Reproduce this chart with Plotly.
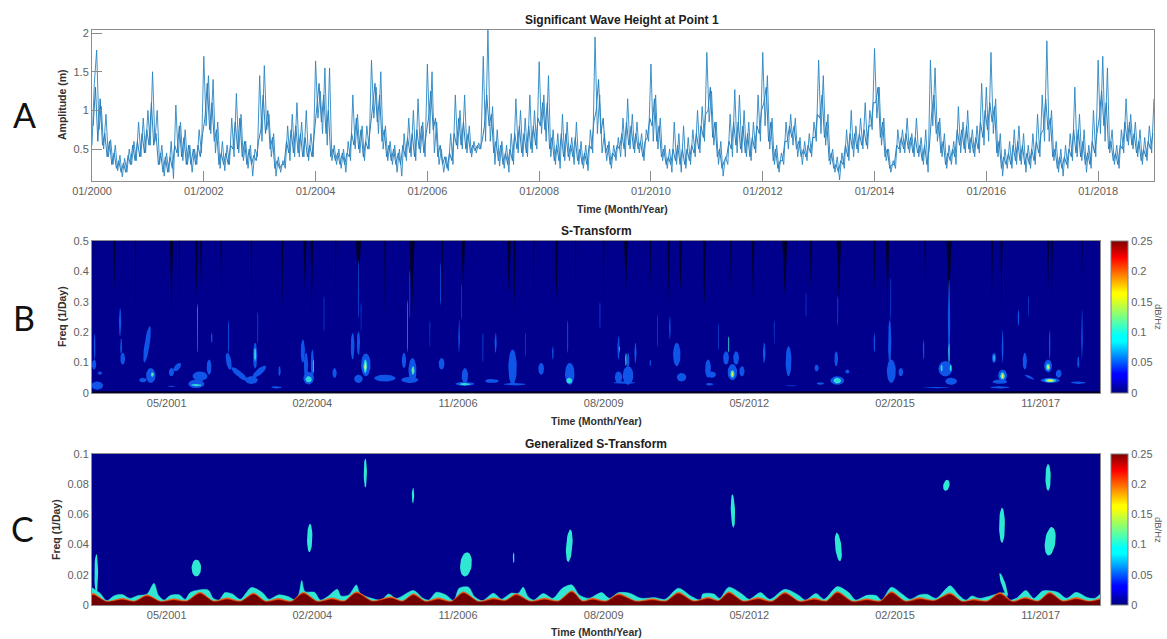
import numpy as np
import plotly.graph_objects as go

W, H = 1167, 639
FONT = "Liberation Sans"

# ---------- Panel A: significant wave height, half-month readings ----------
wave_by_year = [
    [.55,1.35,1.78,.75,1.05,.5,.95,.4,.62,.3,.55,.22,.42,.14,.38,.2,.5,.3,.6,.35,.85,.4,.9,.45],
    [1.0,.55,1.5,.6,1.0,.3,.55,.15,.45,.2,.6,.12,1.07,.4,.85,.35,.75,.3,.55,.2,.5,.3,.75,.45],
    [1.7,.8,1.45,.7,1.4,.45,.85,.25,.6,.22,.55,.3,.9,.4,1.22,.45,.95,.35,.6,.25,.55,.15,.5,.4],
    [1.45,.6,1.58,.75,.95,.4,.7,.15,.4,.2,.35,.25,.8,.35,.95,.4,1.1,.4,.85,.4,1.0,.35,.7,.4],
    [1.64,.9,1.25,.7,1.55,.55,1.55,.35,.55,.3,.5,.25,.5,.2,.6,.35,1.2,.5,.95,.45,.8,.35,.8,.5],
    [1.65,.9,1.3,.7,1.5,.5,.8,.35,.6,.3,.55,.2,.5,.15,.7,.35,.9,.4,1.0,.35,1.15,.45,.85,.4],
    [1.6,.7,1.5,.45,.85,.3,.5,.2,.4,.22,.7,.3,1.2,.5,1.0,.5,1.2,.45,.8,.4,.6,.45,.58,.5],
    [1.7,.6,2.05,.6,1.05,.3,.75,.28,.6,.25,.55,.2,.7,.3,1.15,.45,1.0,.4,.9,.4,1.2,.45,1.0,.5],
    [1.63,.7,1.2,.6,1.45,.4,.75,.3,.7,.25,.95,.35,.85,.35,.65,.3,.85,.3,.6,.25,.55,.22,.75,.45],
    [1.95,.7,1.2,.45,.7,.35,.6,.25,.55,.35,.65,.4,.9,.4,1.15,.5,.95,.45,.85,.45,.7,.35,.75,.6],
    [1.6,.6,1.2,.5,.9,.35,.55,.25,.5,.2,.85,.3,.7,.2,.8,.25,.65,.3,.75,.4,1.0,.45,1.05,.6],
    [1.75,.85,1.25,.55,.85,.3,.6,.15,.4,.3,.95,.4,1.27,.45,1.2,.45,1.0,.4,.85,.35,.85,.45,1.2,.6],
    [1.75,.8,1.45,.5,.9,.3,.55,.2,.45,.3,.85,.5,.95,.55,.9,.4,.65,.3,.6,.35,.7,.4,.85,.6],
    [1.65,.7,1.45,.55,.95,.3,.5,.2,.4,.1,.45,.25,.75,.35,1.0,.4,.8,.45,.9,.5,1.1,.5,1.0,.75],
    [1.8,.9,1.3,.55,.9,.35,.5,.2,.35,.25,.75,.45,.75,.45,.9,.45,.7,.4,.9,.4,.65,.3,.75,.2],
    [1.65,.8,1.55,.6,.9,.4,.7,.25,.55,.3,.6,.3,1.05,.45,.85,.45,1.0,.45,.75,.4,.8,.45,1.35,.55],
    [1.3,.6,1.75,.7,1.15,.4,.7,.15,.5,.25,.6,.25,.75,.3,.8,.3,.7,.2,.55,.25,.7,.3,.95,.4],
    [1.2,.6,1.9,.6,1.0,.35,.6,.2,.5,.15,.55,.25,.7,.35,1.3,.4,.95,.35,.75,.2,.55,.25,1.0,.4],
    [1.65,.7,1.7,.6,1.55,.45,.75,.3,.55,.25,.75,.45,1.15,.55,.95,.5,.85,.4,.75,.3,.65,.35,.8,.45,1.15],
]
# readings of the dense core of the record, a quarter-month later
core_by_year = [
    [.8,1.3,.6,1.15,.55,.7,.4,.6,.3,.45,.25,.35,.2,.32,.2,.42,.3,.55,.35,.6,.4,.7,.45,.75],
    [.55,1.1,.55,.7,.3,.45,.2,.4,.2,.4,.25,.55,.45,.8,.4,.65,.3,.55,.3,.5,.3,.55,.4,.7],
    [.9,1.35,.75,1.1,.6,.75,.3,.45,.3,.45,.3,.55,.5,.85,.5,.9,.4,.6,.3,.5,.3,.42,.35,.6],
    [.75,1.2,.7,1.0,.5,.65,.25,.35,.25,.3,.3,.6,.45,.75,.45,.8,.45,.7,.4,.65,.4,.55,.4,.7],
    [1.0,1.35,.85,1.2,.7,1.0,.4,.5,.35,.45,.3,.45,.3,.45,.4,.7,.55,.9,.5,.75,.4,.6,.5,.75],
    [1.05,1.35,.85,1.2,.6,.75,.4,.55,.35,.5,.3,.45,.3,.55,.4,.65,.45,.7,.4,.75,.5,.8,.45,.7],
    [.9,1.25,.75,.9,.4,.55,.3,.4,.25,.45,.35,.7,.55,.9,.55,.85,.5,.7,.45,.55,.48,.55,.5,.6],
    [.8,1.2,.8,.95,.45,.6,.35,.55,.3,.45,.3,.5,.35,.7,.5,.8,.45,.7,.45,.8,.5,.8,.55,.9],
    [.8,1.1,.75,1.1,.5,.65,.35,.55,.35,.7,.4,.7,.4,.55,.4,.65,.35,.5,.3,.45,.3,.55,.5,.85],
    [1.0,1.4,.7,.9,.45,.55,.3,.45,.4,.55,.5,.7,.5,.85,.55,.8,.5,.7,.5,.6,.4,.6,.65,.9],
    [.8,1.15,.6,.8,.4,.5,.3,.4,.3,.5,.35,.55,.3,.5,.3,.5,.35,.55,.45,.7,.5,.8,.65,.95],
    [1.0,1.3,.65,.85,.4,.5,.25,.35,.4,.6,.5,.85,.55,.85,.5,.8,.45,.7,.4,.65,.5,.8,.7,1.0],
    [1.1,1.3,.6,.85,.35,.5,.25,.35,.35,.6,.6,.8,.65,.8,.5,.6,.4,.5,.4,.55,.45,.65,.65,.95],
    [.9,1.2,.65,.85,.35,.45,.25,.3,.2,.35,.3,.55,.4,.7,.5,.7,.5,.7,.55,.75,.55,.8,.8,1.1],
    [1.1,1.3,.65,.85,.4,.5,.25,.3,.3,.55,.5,.65,.5,.7,.5,.65,.45,.65,.45,.55,.35,.55,.3,.5],
    [.95,1.2,.7,.85,.45,.6,.3,.45,.35,.5,.4,.75,.55,.75,.5,.8,.5,.65,.45,.65,.5,.85,.65,1.0],
    [.75,1.1,.85,1.05,.45,.6,.25,.4,.3,.45,.3,.55,.35,.6,.35,.55,.3,.45,.3,.5,.35,.6,.45,.7],
    [.75,1.15,.75,.9,.4,.5,.25,.4,.25,.4,.3,.5,.4,.75,.45,.75,.4,.6,.3,.45,.3,.6,.45,.7],
    [.9,1.25,.8,1.1,.5,.6,.35,.45,.3,.55,.5,.85,.6,.85,.55,.7,.45,.6,.35,.5,.4,.6,.5,.7],
]
a_tick_years = [2000, 2002, 2004, 2006, 2008, 2010, 2012, 2014, 2016, 2018]
a_tick_text = ["01/2000","01/2002","01/2004","01/2006","01/2008","01/2010","01/2012","01/2014","01/2016","01/2018"]
a_y_ticks = [0.5, 1, 1.5, 2]
a_y_text = ["0.5", "1", "1.5", "2"]

# ---------- Panels B, C: shared axes ----------
bc_tick_years = [2001.33, 2004.08, 2006.83, 2009.58, 2012.33, 2015.08, 2017.83]
bc_tick_text = ["05/2001","02/2004","11/2006","08/2009","05/2012","02/2015","11/2017"]
b_y_ticks = [0, .1, .2, .3, .4, .5]
b_y_text = ["0", "0.1", "0.2", "0.3", "0.4", "0.5"]
c_y_ticks = [0, .02, .04, .06, .08, .1]
c_y_text = ["0", "0.02", "0.04", "0.06", "0.08", "0.1"]
cbar_ticks = [0, .05, .1, .15, .2, .25]
cbar_text = ["0", "0.05", "0.1", "0.15", "0.2", "0.25"]
background_level = 0.003

b_blue = [
 (2000.02,.011,.038,.11,0),(1999.96,.077,.11,.04,0),(1999.97,.11,.198,.015,0),(2000.07,.06,.071,.04,0),
 (2000.45,.187,.28,.022,0),(2000.5,.093,.132,.045,0),(2000.47,.125,.18,.018,0),(2000.96,.1,.22,.05,.1),
 (2001.03,.033,.082,.09,0),(2000.88,.035,.05,.07,0),(2001.42,.055,.082,.05,0),(2001.53,.071,.099,.06,.08),
 (2001.42,.02,.024,.07,0),(2001.89,.016,.044,.15,0),(2001.96,.04,.071,.14,0),(2002.13,.06,.11,.045,0),
 (2002.18,.165,.198,.015,0),(2002.5,.077,.132,.05,-.05),(2002.7,.04,.085,.08,-.25),(2002.93,.03,.055,.12,0),
 (2003.08,.05,.09,.08,.2),(2003.0,.08,.165,.04,0),(2003.46,.055,.088,.022,0),(2003.4,.015,.022,.1,0),
 (2003.9,.1,.176,.04,0),(2003.96,.05,.132,.04,0),(2004.08,.05,.143,.03,0),(2004.01,.028,.07,.1,0),
 (2004.5,.05,.082,.04,0),(2004.84,.11,.198,.035,0),(2004.95,.125,.203,.03,0),(2005.09,.055,.13,.09,0),
 (2004.95,.033,.06,.08,0),(2005.45,.038,.06,.2,0),(2005.81,.082,.132,.04,0),(2005.97,.033,.115,.075,0),
 (2005.92,.033,.053,.16,0),(2006.52,.077,.115,.055,0),(2006.96,.03,.082,.06,0),(2006.96,.024,.036,.18,0),
 (2006.85,.132,.242,.015,0),(2007.47,.033,.046,.13,0),(2007.54,.132,.198,.02,0),(2007.86,.027,.143,.08,0),
 (2007.9,.025,.033,.2,0),(2008.4,.06,.099,.055,0),(2008.62,.11,.154,.015,0),(2008.94,.027,.099,.09,0),
 (2004.95,.242,.44,.01,0),(2005.92,.242,.407,.01,0),(2006.5,.286,.43,.01,0),(2008.9,.13,.24,.012,0),
 (2009.86,.11,.187,.02,0),(2010.04,.082,.132,.025,0),(2009.86,.033,.071,.07,0),(2010.04,.027,.088,.1,0),
 (2009.97,.03,.038,.2,0),(2010.18,.099,.165,.02,0),(2010.46,.088,.11,.014,0),(2010.96,.088,.165,.07,0),
 (2011.05,.038,.066,.09,0),(2010.83,.176,.253,.014,0),(2011.55,.05,.11,.055,0),(2011.62,.05,.071,.08,0),
 (2011.58,.025,.033,.07,0),(2011.89,.093,.137,.055,0),(2012.08,.093,.137,.055,0),(2012.01,.042,.095,.09,0),
 (2012.19,.055,.088,.05,0),(2012.61,.099,.165,.025,0),(2013.07,.055,.154,.055,0),(2013.1,.022,.025,.13,0),
 (2009.51,.21,.3,.01,0),(2013.6,.071,.093,.04,0),(2013.97,.088,.137,.035,0),(2013.99,.027,.055,.13,0),
 (2013.67,.027,.035,.07,0),(2014.18,.064,.077,.04,0),(2014.69,.132,.198,.014,0),(2014.98,.088,.242,.03,0),
 (2015.01,.033,.11,.085,0),(2015.19,.055,.082,.045,0),(2015.62,.11,.176,.014,0),(2016.1,.099,.374,.022,0),
 (2016.03,.055,.105,.13,0),(2016.14,.027,.05,.11,0),(2015.86,.016,.02,.25,0),(2016.95,.099,.132,.04,0),
 (2017.11,.099,.209,.016,0),(2017.11,.038,.077,.085,0),(2017.06,.03,.044,.14,0),(2017.06,.015,.022,.18,0),
 (2017.41,.22,.275,.014,0),(2017.53,.077,.132,.04,0),(2017.62,.044,.06,.05,-.15),(2017.97,.068,.11,.075,0),
 (2018.0,.11,.209,.014,0),(2018.01,.033,.05,.18,0),(2018.17,.05,.077,.055,0),(2018.61,.11,.275,.014,0),
 (2018.54,.03,.038,.14,0),(2018.54,.082,.12,.02,0),
 (2002.5,.13,.24,.012,0),(2003.05,.16,.27,.01,0),(2004.3,.2,.32,.009,0),(2005.0,.2,.3,.008,0),(2006.3,.15,.24,.008,0),
 (2006.9,.24,.36,.009,0),(2007.3,.1,.2,.01,0),(2008.1,.12,.2,.009,0),(2010.6,.15,.26,.009,0),(2011.75,.14,.23,.009,0),
 (2012.8,.16,.24,.008,0),(2013.4,.25,.33,.009,0),(2014.0,.22,.32,.01,0),(2015.0,.24,.38,.009,0),(2017.6,.25,.32,.008,0),
]
b_cyan = [
 (2001.06,.053,.068,.03,0),(2001.89,.022,.03,.1,0),(2001.91,.132,.297,.008,0),(2003.0,.104,.148,.02,0),
 (2004.1,.066,.11,.012,0),(2004.01,.035,.055,.06,0),(2005.08,.066,.11,.035,0),(2005.98,.06,.088,.03,0),
 (2005.88,.132,.308,.008,0),(2006.96,.025,.033,.1,0),(2008.93,.031,.05,.055,0),(2010.0,.088,.132,.015,0),
 (2009.88,.132,.154,.008,0),(2011.94,.132,.187,.012,0),(2012.01,.05,.075,.04,0),(2013.99,.031,.05,.07,0),
 (2016.1,.099,.165,.014,0),(2015.96,.071,.093,.02,0),(2016.13,.071,.093,.02,0),(2017.11,.044,.068,.045,0),
 (2016.95,.104,.126,.014,0),(2017.97,.075,.097,.04,0),(2018.01,.035,.047,.11,0),
]
b_green = [(2001.06,.057,.066,.012,0),(2005.98,.066,.082,.018,0),(2012.01,.053,.072,.024,0)]
b_yellow = [(2005.08,.075,.099,.018,0),(2017.11,.048,.063,.02,0),(2017.97,.079,.091,.02,0),(2018.01,.037,.045,.06,0),(2012.01,.056,.068,.014,0)]
# dark streaks hanging from the top: year, f_low, half-width at top (yr)
b_streaks = [
 (1999.95,.24,.012),(2000.34,.33,.02),(2000.74,.26,.012),(2001.42,.24,.03),(2001.57,.3,.012),(2001.89,.32,.03),
 (2001.98,.33,.02),(2002.36,.31,.015),(2002.93,.31,.015),(2003.51,.27,.02),(2003.94,.34,.03),(2004.07,.26,.025),
 (2004.52,.33,.012),(2004.95,.33,.05),(2005.45,.25,.012),(2005.96,.25,.05),(2006.53,.27,.015),(2006.93,.31,.03),
 (2007.79,.33,.04),(2007.9,.27,.02),(2008.26,.3,.012),(2008.69,.3,.03),(2009.05,.34,.012),(2009.58,.31,.015),
 (2010.0,.32,.035),(2010.46,.33,.012),(2010.81,.3,.025),(2011.03,.33,.03),(2011.48,.28,.03),(2011.98,.33,.012),
 (2012.4,.29,.025),(2013.0,.32,.05),(2013.49,.34,.02),(2014.02,.31,.045),(2014.69,.33,.02),(2014.94,.25,.03),
 (2015.65,.33,.015),(2016.1,.28,.05),(2016.91,.31,.02),(2017.09,.25,.02),(2017.97,.33,.02),(2018.04,.31,.02),
 (2018.61,.36,.012),
]
b_floor_f = 0.006

# ---------- Panel C ----------
c_blobs = [
 (2000.0,.008,.034,.035,0),(2001.89,.0189,.03,.09,0),(2004.03,.0349,.0538,.05,.01),(2005.08,.0778,.0971,.03,0),
 (2005.98,.0673,.0778,.022,0),(2006.98,.0189,.0349,.11,.04),(2007.88,.0278,.0349,.015,0),(2008.93,.0284,.05,.06,.04),
 (2012.02,.0511,.0733,.04,-.02),(2014.01,.0289,.0478,.06,-.06),(2016.05,.0756,.0829,.06,.03),(2017.1,.0411,.0644,.055,0),
 (2017.97,.0756,.0933,.05,0),(2018.01,.0327,.0516,.1,.06),(2017.13,.006,.0211,.04,-.14),
]
cyan_t = [1999.92,2000.07,2000.2,2000.34,2000.49,2000.63,2000.78,2000.96,2001.09,2001.17,2001.28,2001.39,2001.57,2001.68,2001.78,2002.11,2002.21,2002.32,2002.43,2002.57,2002.72,2002.93,2003.15,2003.26,2003.44,2003.62,2003.76,2003.83,2003.88,2003.94,2004.12,2004.23,2004.37,2004.55,2004.62,2004.77,2004.91,2004.98,2005.2,2005.38,2005.52,2005.67,2005.99,2006.17,2006.28,2006.42,2006.6,2006.75,2006.85,2007.03,2007.14,2007.29,2007.5,2007.65,2007.83,2007.97,2008.06,2008.15,2008.26,2008.44,2008.62,2008.8,2008.98,2009.12,2009.3,2009.54,2009.69,2009.86,2010.07,2010.29,2010.53,2010.74,2010.99,2011.24,2011.41,2011.45,2011.66,2011.77,2011.94,2012.19,2012.33,2012.54,2012.72,2013.0,2013.25,2013.39,2013.59,2013.74,2013.99,2014.2,2014.34,2014.55,2014.73,2014.83,2015.01,2015.22,2015.36,2015.54,2015.68,2015.86,2016.12,2016.28,2016.42,2016.53,2016.67,2016.84,2017.06,2017.16,2017.23,2017.37,2017.55,2017.7,2017.87,2018.15,2018.32,2018.5,2018.71,2018.85,2018.97]
cyan_f = [.0115,.0078,.0029,.0062,.0069,.0044,.0062,.0073,.0144,.0067,.0033,.0062,.0067,.0038,.0084,.01,.0044,.0033,.0082,.0073,.0038,.0116,.0078,.0038,.0067,.0056,.0033,.0078,.0162,.0089,.0084,.0033,.0056,.0104,.006,.0067,.0133,.0078,.0044,.0033,.0073,.0044,.0096,.0044,.0033,.0084,.0067,.0029,.0111,.0118,.0056,.0029,.0078,.004,.0078,.0078,.0118,.0056,.0033,.0076,.0044,.0111,.0133,.0067,.0044,.0082,.0044,.0082,.0078,.0044,.0049,.0038,.0111,.0056,.0033,.0073,.0073,.0044,.0118,.0073,.0038,.0082,.0038,.0104,.0067,.0033,.0076,.0038,.0122,.0084,.0033,.0064,.0062,.0033,.0118,.0071,.0038,.0067,.0071,.0044,.0127,.0067,.0033,.006,.0044,.0056,.0078,.0078,.0033,.0044,.0096,.0044,.0093,.0084,.0044,.0084,.0049,.0044,.0078]
hump_t = [1999.92,1999.95,2000.2,2000.49,2000.72,2000.96,2001.22,2001.46,2001.7,2001.96,2002.22,2002.47,2002.72,2002.97,2003.2,2003.44,2003.68,2003.91,2004.18,2004.45,2004.68,2004.91,2005.22,2005.56,2005.78,2005.99,2006.22,2006.46,2006.7,2006.93,2007.22,2007.5,2007.72,2007.93,2008.2,2008.47,2008.72,2008.98,2009.18,2009.37,2009.62,2009.86,2010.2,2010.5,2010.75,2010.99,2011.28,2011.55,2011.75,2011.94,2012.22,2012.5,2012.75,2013.0,2013.28,2013.56,2013.78,2013.99,2014.28,2014.55,2014.8,2015.01,2015.28,2015.54,2015.82,2016.12,2016.35,2016.56,2016.82,2017.06,2017.3,2017.54,2017.78,2018.0,2018.25,2018.5,2018.75,2018.97]
orange_f = [.0075,.0078,.0025,.0045,.0027,.0068,.0025,.0042,.0028,.0085,.0027,.0048,.0027,.008,.0026,.0044,.0026,.0085,.0026,.0048,.0028,.0088,.0028,.0055,.0028,.0075,.0026,.0048,.0026,.0088,.0025,.0048,.0032,.0075,.0027,.0047,.0028,.0095,.0028,.0046,.0027,.0075,.0027,.0042,.0028,.0085,.0028,.0052,.0032,.0088,.0027,.005,.0026,.0085,.0026,.0046,.0028,.009,.0026,.0042,.0028,.009,.0027,.005,.0032,.008,.0025,.004,.0028,.0082,.0026,.0052,.0028,.0085,.0028,.005,.0027,.0048]
red_f = [.0062,.0066,.002,.0034,.0021,.0058,.002,.0031,.0022,.0075,.0021,.0036,.0021,.007,.002,.0033,.002,.0075,.002,.0036,.0022,.0078,.0022,.0044,.0022,.0065,.002,.0036,.002,.0078,.002,.0036,.0026,.0065,.0021,.0035,.0022,.0085,.0022,.0034,.0021,.0065,.0021,.0031,.0022,.0075,.0022,.0041,.0026,.0078,.0021,.0038,.002,.0075,.002,.0034,.0022,.008,.002,.0031,.0022,.008,.0021,.0038,.0026,.007,.002,.0029,.0022,.0072,.002,.0041,.0022,.0075,.0022,.0038,.0021,.0036]

# ---------- styles ----------
JET = [[0,"#00007f"],[.11,"#0000ff"],[.125,"#0000ff"],[.34,"#00ffff"],[.375,"#00ffff"],[.64,"#ffff00"],[.66,"#ffff00"],[.89,"#ff0000"],[1,"#7f0000"]]
X_A = [2000, 2019.0]
X_BC = [1999.92, 2018.95]
PX_A = (92, 1154, 30, 181)
PX_B = (92, 1100, 241, 393)
PX_C = (92, 1100, 454, 605)
TICK = dict(family=FONT, size=11, color="#606060")
LAB = dict(family=FONT, size=10.5, color="#303030", weight=700)
TIT = dict(family=FONT, size=12, color="#202020", weight=700)


def blob_xy(rows):
    th = np.linspace(0, 2 * np.pi, 33)
    xs, ys = [], []
    for t0, f0, f1, hw, lean in rows:
        xs += list(t0 + hw * np.sin(th) + lean * np.cos(th) / 2) + [None]
        ys += list((f0 + f1) / 2 + (f1 - f0) / 2 * np.cos(th)) + [None]
    return xs, ys


def streak_xy(rows):
    xs, ys = [], []
    for t0, fl, hw in rows:
        mid = (fl + .5) / 2
        xs += [t0 - hw, t0 - hw * .45, t0, t0 + hw * .45, t0 + hw, t0 - hw, None]
        ys += [.5, mid, fl, mid, .5, .5, None]
    return xs, ys


def poly(xs, ys, color, ax):
    return go.Scatter(x=xs, y=ys, mode="lines", fill="toself", fillcolor=color, line=dict(width=0, color=color),
                      hoverinfo="skip", showlegend=False, xaxis=ax[0], yaxis=ax[1])


def bg(xr, yr, ax, cy, cl):
    return go.Heatmap(x=xr, y=yr, z=[[background_level] * 2] * 2, zmin=0, zmax=.25, colorscale=JET, xaxis=ax[0], yaxis=ax[1],
                      hoverinfo="skip",
                      colorbar=dict(x=1111 / W, xanchor="left", xref="paper", y=cy, yref="paper", yanchor="middle",
                                    len=cl, lenmode="fraction", thickness=17, thicknessmode="pixels",
                                    tickvals=cbar_ticks, ticktext=cbar_text, tickfont=TICK, ticks="",
                                    outlinewidth=1, outlinecolor="#808080", xpad=0, ypad=0))


def dom_x(p):
    return [p[0] / W, p[1] / W]


def dom_y(p):
    return [1 - p[3] / H, 1 - p[2] / H]


fig = go.Figure()

# Panel A
core = [v for yr in core_by_year for v in yr]
core_t = [2000 + (i + .5) / 24 for i in range(len(core))]
fig.add_trace(go.Scatter(x=core_t, y=core, mode="lines", line=dict(color="#1470b4", width=0.9), showlegend=False,
                         hoverinfo="skip", xaxis="x", yaxis="y"))
wave = [v for yr in wave_by_year for v in yr]
wave_t = [2000 + i / 24 for i in range(len(wave))]
fig.add_trace(go.Scatter(x=wave_t, y=wave, mode="lines", line=dict(color="#2a86c2", width=0.9), showlegend=False,
                         hoverinfo="skip", xaxis="x", yaxis="y"))

# Panel B
axb = ("x2", "y2")
fig.add_trace(bg(X_BC, [0, .5], axb, 1 - (PX_B[2] + PX_B[3]) / 2 / H, (PX_B[3] - PX_B[2]) / H))
fig.add_trace(poly(*streak_xy(b_streaks), "#00002e", axb))
fig.add_trace(poly(*blob_xy(b_blue), "#0f55e8", axb))
fig.add_trace(poly(*blob_xy(b_cyan), "#2fd8d8", axb))
fig.add_trace(poly(*blob_xy(b_green), "#6fe88a", axb))
fig.add_trace(poly(*blob_xy(b_yellow), "#e8ee50", axb))
fig.add_trace(go.Scatter(x=X_BC + X_BC[::-1], y=[0, 0, b_floor_f, b_floor_f], mode="lines", fill="toself", fillcolor="#000028",
                         line=dict(width=0), hoverinfo="skip", showlegend=False, xaxis="x2", yaxis="y2"))

# Panel C
axc = ("x3", "y3")
fig.add_trace(bg(X_BC, [0, .1], axc, 1 - (PX_C[2] + PX_C[3]) / 2 / H, (PX_C[3] - PX_C[2]) / H))
fig.add_trace(poly(*blob_xy(c_blobs), "#2fe8d4", axc))
for f_vals, col in ((cyan_f, "#2fe8d4"), (orange_f, "#f4560f"), (red_f, "#730000")):
    ts = cyan_t if f_vals is cyan_f else hump_t
    fig.add_trace(go.Scatter(x=ts, y=f_vals, mode="lines", fill="tozeroy", fillcolor=col,
                             line=dict(color=col, width=0.5, shape="spline", smoothing=0.8),
                             hoverinfo="skip", showlegend=False, xaxis="x3", yaxis="y3"))

COMMON = dict(showgrid=False, zeroline=False, showline=True, mirror=True, linecolor="#8c8c8c", linewidth=1,
              tickfont=TICK, ticks="inside", tickcolor="#8c8c8c", layer="above traces")
ann = []


def note(x, y, text, font, **kw):
    ann.append(dict(x=x / W, y=1 - y / H, xref="paper", yref="paper", text=text, font=font, showarrow=False,
                    xanchor="center", yanchor="middle", **kw))


note(622, 20, "Significant Wave Height at Point 1", TIT)
note(596, 231, "S-Transform", TIT)
note(596, 444, "Generalized S-Transform", TIT)
note(622, 209, "Time (Month/Year)", LAB)
note(596, 421, "Time (Month/Year)", LAB)
note(596, 632, "Time (Month/Year)", LAB)
note(62, 105, "Amplitude (m)", LAB, textangle=-90)
note(62, 317, "Freq (1/Day)", LAB, textangle=-90)
note(56, 530, "Freq (1/Day)", LAB, textangle=-90)
note(1159, 317, "dB/Hz", dict(family=FONT, size=9.5, color="#606060"), textangle=90)
note(1159, 530, "dB/Hz", dict(family=FONT, size=9.5, color="#606060"), textangle=90)
BIG = dict(family="Lato", size=34, color="#111111")
note(24, 114, "A", BIG)
note(24, 317, "B", BIG)
note(22, 528, "C", BIG)

fig.update_layout(
    width=W, height=H, margin=dict(l=0, r=0, t=0, b=0, autoexpand=False), paper_bgcolor="white", plot_bgcolor="white",
    showlegend=False, annotations=ann,
    xaxis=dict(COMMON, domain=dom_x(PX_A), range=X_A, tickvals=a_tick_years, ticktext=a_tick_text, ticklen=10, anchor="y"),
    yaxis=dict(COMMON, domain=dom_y(PX_A), range=[.087, 2.04], tickvals=a_y_ticks, ticktext=a_y_text, ticklen=10, anchor="x"),
    xaxis2=dict(COMMON, domain=dom_x(PX_B), range=X_BC, tickvals=bc_tick_years, ticktext=bc_tick_text, ticklen=0, anchor="y2"),
    yaxis2=dict(COMMON, domain=dom_y(PX_B), range=[0, .5], tickvals=b_y_ticks, ticktext=b_y_text, ticklen=0, anchor="x2"),
    xaxis3=dict(COMMON, domain=dom_x(PX_C), range=X_BC, tickvals=bc_tick_years, ticktext=bc_tick_text, ticklen=0, anchor="y3"),
    yaxis3=dict(COMMON, domain=dom_y(PX_C), range=[0, .1], tickvals=c_y_ticks, ticktext=c_y_text, ticklen=0, anchor="x3"),
)
fig.write_html("out.html", config=dict(displayModeBar=False),
               post_script="document.body.style.margin='0';document.body.style.overflow='hidden';")
